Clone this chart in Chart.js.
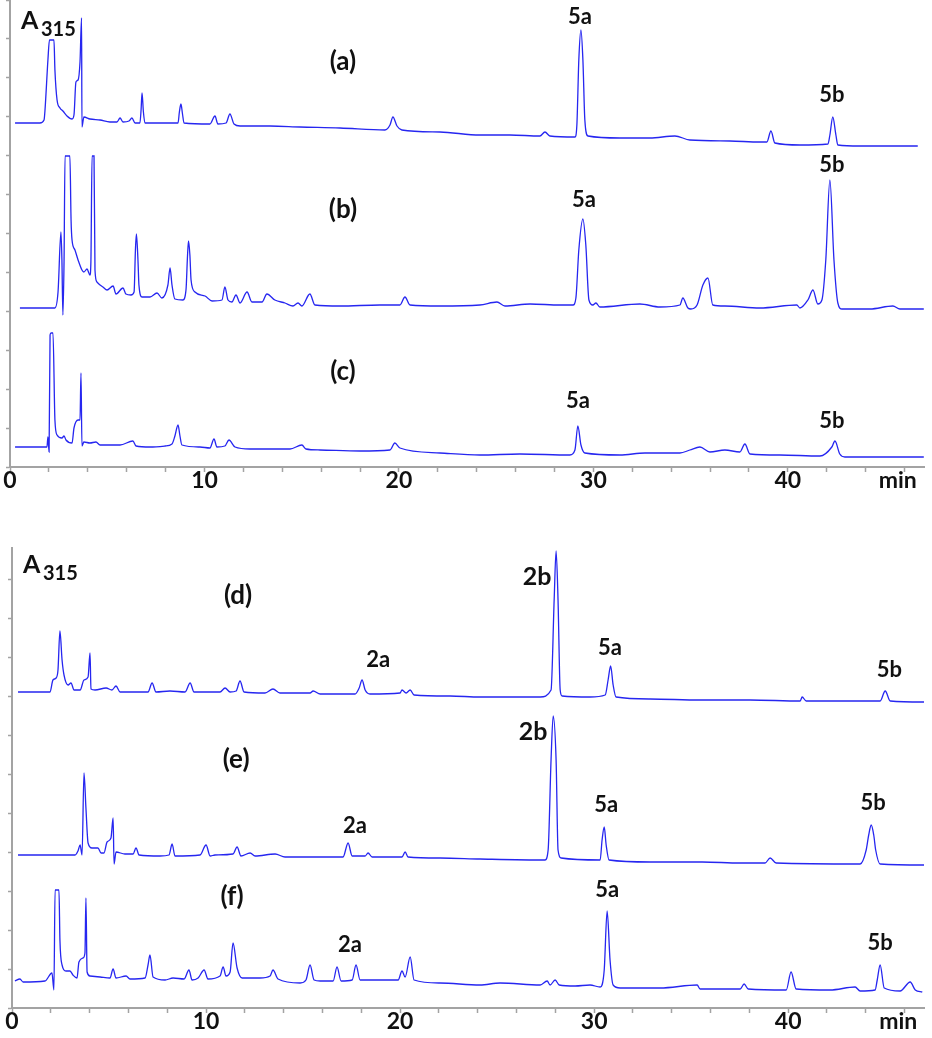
<!DOCTYPE html>
<html>
<head>
<meta charset="utf-8">
<script src="https://cdn.jsdelivr.net/npm/chart.js@4"></script>
<style>
  body { margin: 0; background: #fff; }
  canvas { display: block; }
</style>
</head>
<body>
<canvas id="topChart" width="932" height="510"></canvas>
<canvas id="bottomChart" width="932" height="528"></canvas>
<script>
// retention time (min), absorbance (height above each trace's baseline)
const traceA = [[0.26,0],[1.54,0],[1.75,3],[1.80,13],[1.95,63],[2.03,83],[2.26,83],[2.31,53],[2.42,23],[2.57,15],[2.72,12],[2.93,7],[3.19,4],[3.29,8],[3.39,41],[3.50,43],[3.60,61],[3.68,105],[3.70,-4],[3.80,6],[4.11,4],[4.63,3],[5.14,1],[5.50,1],[5.66,5],[5.81,1],[6.12,2],[6.27,5],[6.43,0],[6.68,0],[6.74,13],[6.79,30],[6.86,11],[6.94,0],[7.71,0],[8.64,0],[8.71,11],[8.79,19],[8.87,9],[8.95,0],[10.28,-1],[10.54,7],[10.69,-1],[11.11,0],[11.31,9],[11.52,-1],[11.83,-3],[13.37,-3],[14.91,-4],[16.97,-5],[19.28,-7],[19.54,-2],[19.69,6],[19.90,-3],[20.15,-7],[22.11,-9],[24.16,-12],[25.71,-12],[27.25,-13],[27.51,-9],[27.76,-13],[29.05,-14],[29.15,-2],[29.25,63],[29.36,93],[29.46,63],[29.56,3],[29.72,-13],[31.36,-15],[32.90,-15],[34.19,-13],[34.96,-17],[37.02,-18],[38.56,-19],[38.92,-19],[39.13,-8],[39.33,-20],[40.62,-22],[42.06,-21],[42.16,-12],[42.31,6],[42.47,-12],[42.57,-22],[43.70,-23],[45.24,-23],[46.68,-23]];

const traceB = [[0.51,0],[2.31,0],[2.47,16],[2.62,76],[2.67,48],[2.72,-7],[2.78,48],[2.83,152],[3.08,152],[3.14,88],[3.19,68],[3.34,58],[3.50,48],[3.70,38],[3.80,36],[3.96,39],[4.11,33],[4.16,46],[4.22,152],[4.32,152],[4.37,38],[4.47,26],[4.63,23],[4.78,21],[4.99,18],[5.30,22],[5.45,14],[5.81,20],[5.96,14],[6.22,13],[6.38,16],[6.45,58],[6.50,74],[6.58,48],[6.63,23],[6.79,11],[7.20,11],[7.56,15],[7.81,10],[8.12,23],[8.23,40],[8.33,23],[8.48,9],[8.89,8],[9.05,18],[9.13,53],[9.18,67],[9.25,53],[9.31,28],[9.51,16],[10.03,12],[10.39,7],[10.90,8],[11.05,21],[11.21,8],[11.41,6],[11.62,13],[11.83,5],[12.19,16],[12.44,6],[12.96,6],[13.21,14],[13.62,8],[14.14,5],[14.55,2],[14.81,5],[15.01,2],[15.42,14],[15.68,3],[16.97,2],[19.02,3],[20.05,3],[20.31,11],[20.57,3],[22.11,2],[24.16,3],[25.04,6],[25.45,2],[26.74,4],[28.28,3],[28.95,3],[29.10,10],[29.25,58],[29.46,89],[29.61,63],[29.77,8],[29.97,3],[30.13,5],[30.33,1],[32.39,4],[33.42,1],[34.45,3],[34.60,10],[34.86,0],[35.01,-1],[35.33,3],[35.63,23],[35.89,30],[36.14,3],[36.76,2],[38.56,0],[40.46,3],[40.62,0],[41.03,8],[41.29,18],[41.54,4],[41.75,8],[41.95,48],[42.16,128],[42.37,48],[42.57,5],[42.78,-1],[44.22,-1],[45.40,2],[45.76,-1],[46.99,-1]];

const traceC = [[0.26,0],[1.90,0],[1.95,10],[2.01,-5],[2.06,112],[2.11,114],[2.21,114],[2.31,27],[2.42,12],[2.67,9],[2.78,11],[2.88,7],[3.19,4],[3.29,19],[3.50,27],[3.60,27],[3.65,74],[3.70,1],[3.80,5],[4.11,4],[4.42,5],[4.63,2],[5.66,2],[6.32,6],[6.48,1],[7.20,0],[7.97,1],[8.33,3],[8.48,11],[8.64,22],[8.74,11],[8.84,2],[9.77,0],[10.28,-1],[10.49,8],[10.64,0],[11.05,1],[11.26,7],[11.57,0],[12.34,-2],[14.40,-2],[15.01,2],[15.22,-2],[15.94,-3],[18.00,-4],[19.54,-3],[19.79,4],[20.05,-1],[22.11,-6],[24.16,-8],[26.22,-7],[28.79,-8],[29.05,-3],[29.20,21],[29.36,2],[29.56,-6],[31.36,-8],[32.65,-6],[34.45,-6],[34.96,-3],[35.48,0],[35.99,-5],[36.76,-3],[37.53,-5],[37.79,3],[38.05,-7],[39.59,-8],[41.65,-9],[42.26,0],[42.42,6],[42.67,-7],[42.93,-10],[46.99,-10]];

const traceD = [[0.31,0],[1.96,0],[2.11,12],[2.27,14],[2.37,22],[2.47,61],[2.58,32],[2.68,17],[2.89,7],[3.04,9],[3.20,2],[3.51,2],[3.71,12],[3.92,15],[4.02,39],[4.07,3],[4.28,2],[4.85,4],[5.15,2],[5.36,6],[5.57,0],[7.01,0],[7.22,9],[7.42,0],[8.14,1],[8.92,0],[9.18,9],[9.38,0],[10.72,0],[10.98,4],[11.24,0],[11.55,1],[11.75,11],[11.96,0],[13.04,-1],[13.45,3],[13.81,-1],[15.36,-1],[15.52,1],[15.88,-2],[17.68,-2],[17.89,4],[18.04,12],[18.20,2],[18.45,-2],[20.00,-1],[20.10,2],[20.31,-1],[20.52,2],[20.72,-3],[22.58,-4],[24.12,-5],[27.22,-5],[27.78,2],[27.94,92],[28.04,141],[28.14,92],[28.25,2],[28.35,-4],[29.79,-5],[30.57,-3],[30.72,12],[30.85,26],[30.98,7],[31.13,-5],[32.89,-7],[35.46,-8],[38.04,-8],[40.62,-9],[40.72,-5],[40.93,-9],[44.74,-9],[45.00,1],[45.26,-9],[47.01,-10]];

const traceE = [[0.31,0],[3.25,0],[3.40,4],[3.51,10],[3.61,0],[3.71,82],[3.81,47],[3.92,12],[4.12,7],[4.43,7],[4.59,2],[4.74,2],[4.90,13],[5.10,17],[5.21,37],[5.26,-9],[5.36,3],[5.82,1],[6.24,1],[6.39,7],[6.55,0],[7.63,-1],[8.09,0],[8.25,11],[8.40,-1],[9.69,0],[10.00,10],[10.21,-1],[10.46,0],[11.39,1],[11.60,8],[11.80,-1],[12.27,2],[12.53,-1],[13.56,1],[14.07,-2],[15.88,-2],[17.06,-2],[17.32,12],[17.53,-1],[18.20,-1],[18.35,2],[18.56,-2],[20.10,-2],[20.26,3],[20.41,-2],[22.06,-3],[24.12,-4],[27.47,-5],[27.63,5],[27.78,95],[27.89,139],[28.04,95],[28.14,5],[28.30,-3],[30.31,-5],[30.41,15],[30.52,28],[30.62,10],[30.77,-5],[32.89,-7],[35.57,-7],[37.53,-8],[38.81,-8],[39.07,-3],[39.38,-8],[43.71,-9],[44.02,5],[44.15,20],[44.28,30],[44.41,20],[44.51,5],[44.74,-9],[47.01,-10]];

const traceF = [[0.15,0],[0.41,2],[0.57,-1],[1.70,0],[2.06,8],[2.16,-9],[2.22,91],[2.42,91],[2.47,41],[2.58,16],[2.78,10],[2.99,10],[3.14,6],[3.35,3],[3.45,19],[3.66,23],[3.76,28],[3.81,83],[3.87,9],[4.02,5],[4.54,4],[5.05,3],[5.21,12],[5.36,3],[5.88,5],[6.08,2],[6.86,3],[7.01,16],[7.11,26],[7.27,4],[7.89,1],[8.30,3],[8.87,2],[9.12,11],[9.28,1],[9.59,3],[9.90,11],[10.10,2],[10.72,5],[10.88,14],[11.03,5],[11.24,9],[11.39,38],[11.60,13],[11.86,3],[12.78,3],[13.30,5],[13.45,11],[13.71,2],[14.85,-2],[15.15,1],[15.36,16],[15.57,1],[15.88,0],[16.55,0],[16.75,14],[16.96,0],[17.53,1],[17.73,16],[17.94,1],[18.87,1],[19.90,1],[20.10,10],[20.26,4],[20.52,24],[20.72,1],[22.06,-2],[24.12,-4],[25.15,-2],[27.22,-4],[27.58,0],[27.73,-4],[27.99,1],[28.20,-4],[29.02,-5],[29.79,-4],[30.31,-6],[30.52,11],[30.67,70],[30.82,21],[30.98,-4],[31.34,-7],[33.40,-7],[35.31,-4],[35.46,-8],[37.53,-8],[37.73,-3],[37.94,-8],[39.90,-9],[40.15,9],[40.41,-8],[42.16,-9],[43.45,-6],[43.71,-10],[44.48,-9],[44.59,1],[44.74,16],[44.95,-7],[45.77,-10],[46.29,-1],[46.55,-9],[46.91,-11]];

// peak / trace annotations: [text, time, height on the panel scale]
const labelsTop = [["(a)",17.12,405],["5a",29.31,450],["5b",42.26,372],["(b)",17.12,257],["5a",29.51,267],["5b",42.26,302],["(c)",17.12,95],["5a",29.2,66],["5b",42.26,46]];
const labelsBottom = [["(d)",11.65,412],["2a",18.87,348],["2b",27.06,431],["5a",30.82,360],["5b",45.21,338],["(e)",11.55,248],["2a",17.68,182],["2b",26.86,276],["5a",30.62,203],["5b",44.38,205],["(f)",11.34,111],["2a",17.42,63],["5a",30.67,118],["5b",44.74,65]];

const xTickLabels = [0, 10, 20, 30, 40];
const xUnit = "min";

const lineColor = 'rgb(38,38,240)';
const axisColor = '#a3a3a3';

function labelFont(txt) {
  if (txt.startsWith('(')) return 'bold 26px Lato';
  if (txt === '2b') return 'bold 25px Lato';
  return 'bold 22px Lato';
}

const peakLabels = {
  id: 'peakLabels',
  afterDatasetsDraw(chart, args, opts) {
    const {ctx, chartArea, scales} = chart;
    ctx.save();
    ctx.fillStyle = '#111';
    ctx.textAlign = 'center';
    ctx.textBaseline = 'middle';
    opts.peaks.forEach(([txt, t, v]) => {
      ctx.font = labelFont(txt);
      ctx.fillText(txt, scales.x.getPixelForValue(t), scales.y.getPixelForValue(v));
    });
    // A315 axis title
    ctx.textAlign = 'left';
    ctx.textBaseline = 'alphabetic';
    ctx.font = 'bold 25px Lato';
    ctx.fillText('A', chartArea.left + 11, chartArea.top + opts.aBase);
    ctx.font = 'bold 20px Lato';
    ctx.fillText('315', chartArea.left + 31, chartArea.top + opts.aBase + 7);
    // unit at the end of the time axis
    ctx.textAlign = 'center';
    ctx.textBaseline = 'top';
    ctx.font = 'bold 23px Lato';
    ctx.fillText(xUnit, scales.x.getPixelForValue(opts.unitAt), scales.x.top + 2);
    ctx.restore();
  }
};

function makeChart(id, traces, offsets, labels, yMax, yWidth, xHeight, padTop, aBase, unitAt) {
  const datasets = traces.map((tr, i) => ({
    data: tr.map(p => ({x: p[0], y: p[1] + offsets[i]})),
    borderColor: lineColor,
    borderWidth: 1.3,
    pointRadius: 0,
    cubicInterpolationMode: 'monotone',
    fill: false
  }));
  return new Chart(document.getElementById(id), {
    type: 'line',
    data: {datasets},
    plugins: [peakLabels],
    options: {
      responsive: false,
      animation: false,
      devicePixelRatio: 1,
      layout: {padding: {left: 0, right: 8, top: padTop, bottom: 0}},
      plugins: {
        legend: {display: false},
        tooltip: {enabled: false},
        peakLabels: {peaks: labels, aBase, unitAt}
      },
      scales: {
        x: {
          type: 'linear',
          min: 0,
          max: 47,
          border: {color: axisColor, width: 2},
          grid: {drawOnChartArea: false, color: axisColor, tickLength: 5, tickWidth: 1.5},
          ticks: {
            stepSize: 2,
            autoSkip: false,
            maxRotation: 0,
            includeBounds: false,
            padding: -5,
            color: '#111',
            font: {family: 'Lato', size: 23, weight: 'bold'},
            callback: v => xTickLabels.includes(v) ? String(v) : ''
          },
          afterFit: s => { s.height = xHeight; }
        },
        y: {
          min: 0,
          max: yMax,
          border: {color: axisColor, width: 2},
          grid: {drawOnChartArea: false, color: axisColor, tickLength: 4, tickWidth: 1.5},
          ticks: {display: false, stepSize: 39, includeBounds: false},
          afterFit: s => { s.width = yWidth; }
        }
      }
    }
  });
}

makeChart('topChart', [traceA, traceB, traceC], [344, 159, 20], labelsTop, 467, 10, 43, 0, 29, 45.65);
makeChart('bottomChart', [traceD, traceE, traceF], [316, 153, 27], labelsBottom, 460, 12, 30, 38, 25, 45.67);
</script>
</body>
</html>
